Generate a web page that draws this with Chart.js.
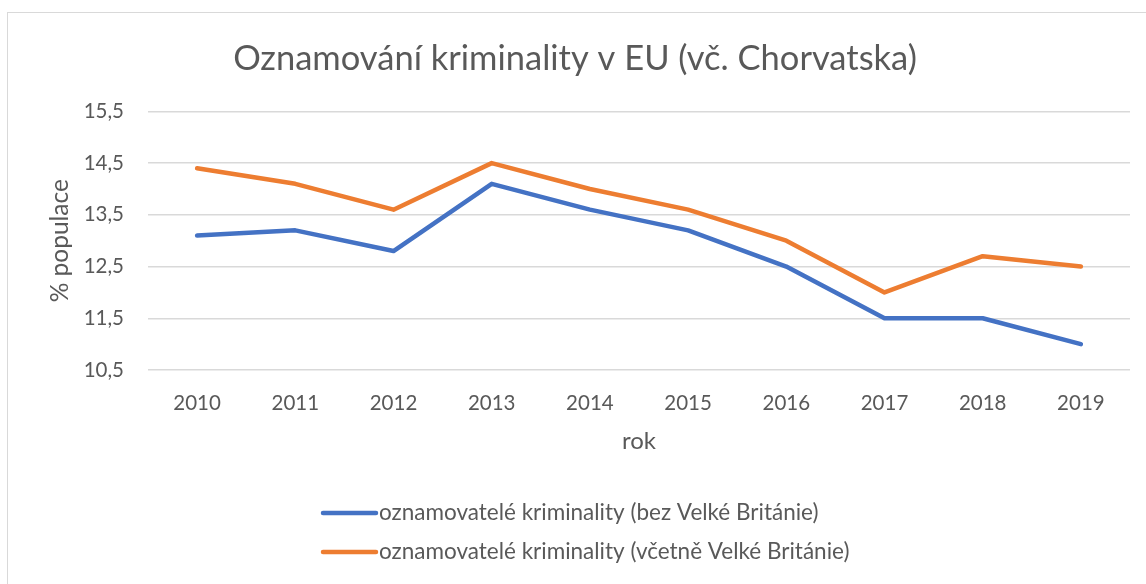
<!DOCTYPE html>
<html>
<head>
<meta charset="utf-8">
<script src="https://cdn.jsdelivr.net/npm/chart.js@4"></script>
<style>
  html, body { margin: 0; padding: 0; background: #fff; }
  #wrap { position: relative; width: 1146px; height: 584px; }
</style>
</head>
<body>
<div id="wrap"><canvas id="myChart" width="1146" height="584"></canvas></div>
<script>
// data
const years = ['2010', '2011', '2012', '2013', '2014', '2015', '2016', '2017', '2018', '2019'];
const bezUK = [13.1, 13.2, 12.8, 14.1, 13.6, 13.2, 12.5, 11.5, 11.5, 11.0];
const vcetneUK = [14.4, 14.1, 13.6, 14.5, 14.0, 13.6, 13.0, 12.0, 12.7, 12.5];
const seriesNames = [
    'oznamovatelé kriminality (bez Velké Británie)',
    'oznamovatelé kriminality (včetně Velké Británie)'
];

const grey = '#595959';
const fontFamily = 'Lato, "Open Sans", sans-serif';

// legend stacked under the chart + outer frame, like the Excel original
const bottomLegend = {
    id: 'bottomLegend',
    afterDraw(chart) {
        const ctx = chart.ctx;
        ctx.save();
        ctx.strokeStyle = '#d9d9d9';
        ctx.lineWidth = 1;
        ctx.strokeRect(7.5, 12.5, 1150, 600);
        ctx.font = '22.5px ' + fontFamily;
        ctx.textBaseline = 'middle';
        chart.data.datasets.forEach((ds, i) => {
            const y = 513 + i * 39;
            ctx.strokeStyle = ds.borderColor;
            ctx.lineWidth = 4.5;
            ctx.lineCap = 'round';
            ctx.beginPath();
            ctx.moveTo(323, y);
            ctx.lineTo(376, y);
            ctx.stroke();
            ctx.fillStyle = grey;
            ctx.fillText(ds.label, 379, y);
        });
        ctx.restore();
    }
};

const ctx = document.getElementById('myChart').getContext('2d');
const myChart = new Chart(ctx, {
    type: 'line',
    data: {
        labels: years,
        datasets: [{
            label: seriesNames[0],
            data: bezUK,
            borderColor: '#4472C4',
            backgroundColor: '#4472C4',
            borderWidth: 4.5,
            borderCapStyle: 'round',
            borderJoinStyle: 'round',
            pointRadius: 0,
            tension: 0
        }, {
            label: seriesNames[1],
            data: vcetneUK,
            borderColor: '#ED7D31',
            backgroundColor: '#ED7D31',
            borderWidth: 4.5,
            borderCapStyle: 'round',
            borderJoinStyle: 'round',
            pointRadius: 0,
            tension: 0
        }]
    },
    options: {
        responsive: false,
        animation: false,
        layout: {
            padding: { top: 0, left: 20, right: 16, bottom: 124 }
        },
        plugins: {
            legend: { display: false },
            tooltip: { enabled: false },
            title: {
                display: true,
                text: 'Oznamování kriminality v EU (vč. Chorvatska)',
                color: grey,
                font: { family: fontFamily, size: 34.5, weight: 'normal' },
                padding: { top: 38, bottom: 32 }
            }
        },
        scales: {
            x: {
                offset: true,
                grid: { display: false },
                border: { display: false },
                ticks: {
                    color: grey,
                    font: { family: fontFamily, size: 20.5 },
                    padding: 13
                },
                title: {
                    display: true,
                    text: 'rok',
                    color: grey,
                    font: { family: fontFamily, size: 24 },
                    padding: { top: 8 }
                },
                afterFit: (scale) => { scale.height = 90; }
            },
            y: {
                min: 10.5,
                max: 15.5,
                grid: { color: '#d9d9d9', lineWidth: 1.5, drawTicks: false },
                border: { display: false },
                ticks: {
                    stepSize: 1,
                    color: grey,
                    font: { family: fontFamily, size: 20.5 },
                    padding: 24,
                    callback: (v) => v.toFixed(1).replace('.', ',')
                },
                title: {
                    display: true,
                    text: '% populace',
                    color: grey,
                    font: { family: fontFamily, size: 24.5 },
                    padding: { top: 25, bottom: 0 }
                },
                afterFit: (scale) => { scale.width = 128; }
            }
        }
    },
    plugins: [bottomLegend]
});
</script>
</body>
</html>
